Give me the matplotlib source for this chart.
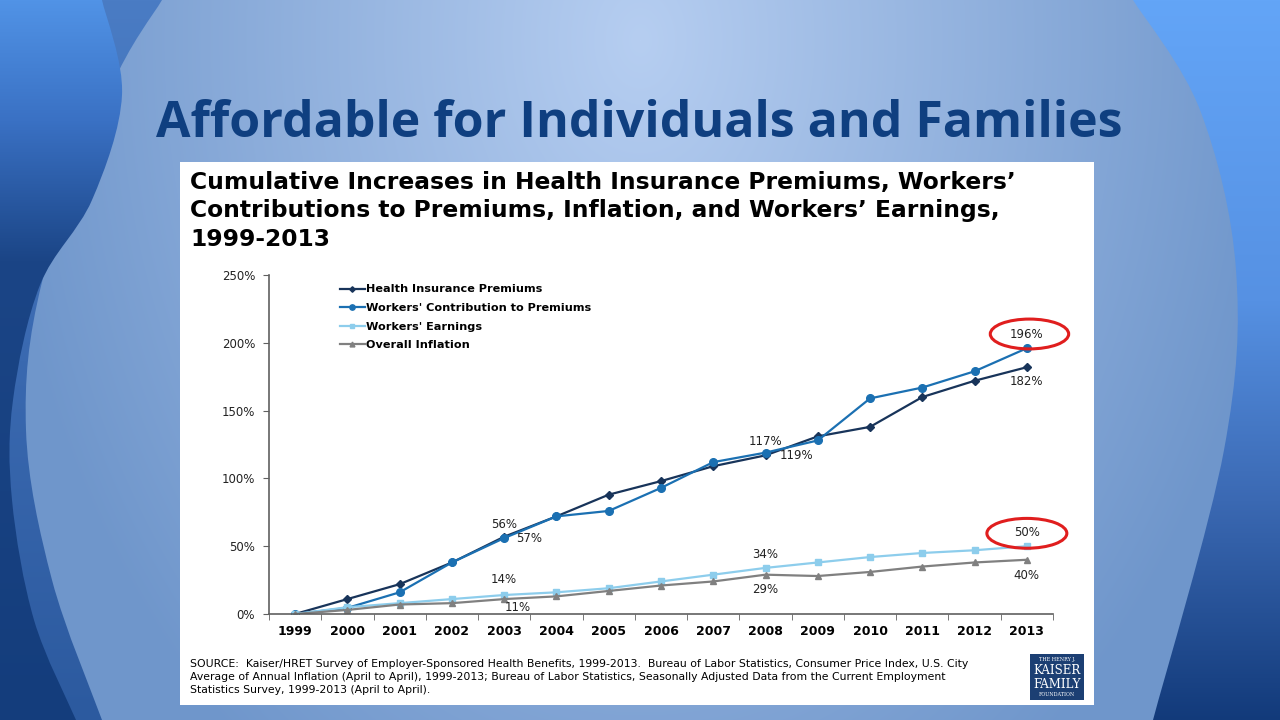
import numpy as np
import matplotlib
matplotlib.use("Agg")
import matplotlib.pyplot as plt
from matplotlib.patches import Rectangle, Ellipse, PathPatch
from matplotlib.path import Path
from matplotlib.ticker import FixedLocator, FuncFormatter

# ---------------- data ----------------
years = list(range(1999, 2014))
premiums = [0, 11, 22, 38, 57, 72, 88, 98, 109, 117, 131, 138, 160, 172, 182]
contributions = [0, 4.5, 16, 38, 56, 72, 76, 93, 112, 119, 128, 159, 167, 179, 196]
earnings = [0, 5, 8, 11, 14, 16, 19, 24, 29, 34, 38, 42, 45, 47, 50]
inflation = [0, 3, 7, 8, 11, 13, 17, 21, 24, 29, 28, 31, 35, 38, 40]
series_names = ["Health Insurance Premiums", "Workers' Contribution to Premiums",
                "Workers' Earnings", "Overall Inflation"]
y_ticks = [0, 50, 100, 150, 200, 250]

slide_title = "Affordable for Individuals and Families"
chart_title_lines = ["Cumulative Increases in Health Insurance Premiums, Workers\u2019",
                     "Contributions to Premiums, Inflation, and Workers\u2019 Earnings,",
                     "1999-2013"]
source_text = ("SOURCE:  Kaiser/HRET Survey of Employer-Sponsored Health Benefits, 1999-2013.  Bureau of Labor Statistics, Consumer Price Index, U.S. City\n"
               "Average of Annual Inflation (April to April), 1999-2013; Bureau of Labor Statistics, Seasonally Adjusted Data from the Current Employment\n"
               "Statistics Survey, 1999-2013 (April to April).")

# ---------------- figure ----------------
W, H = 1280, 720
fig = plt.figure(figsize=(12.8, 7.2), dpi=100)
bg = fig.add_axes([0, 0, 1, 1])
bg.set_xlim(0, W)
bg.set_ylim(H, 0)
bg.axis("off")

yy, xx = np.mgrid[0:H, 0:W]

def hexrgb(h):
    h = h.lstrip("#")
    return np.array([int(h[i:i + 2], 16) / 255.0 for i in (0, 2, 4)])

# main background: light in upper centre, greyer blue towards the edges
d = np.clip(np.sqrt(((xx - 640) / 650.0) ** 2 + ((yy - 40) / 900.0) ** 2), 0, 1)
c0, c1 = hexrgb("#b6cef1"), hexrgb("#6f96cb")
img = c0 * (1 - d[..., None]) + c1 * d[..., None]
bg.imshow(img, extent=[0, W, H, 0], zorder=0, aspect="auto")

def vgrad(stops):
    ys = [s[0] for s in stops]
    cols = np.array([hexrgb(s[1]) for s in stops])
    yv = np.arange(H)
    rgb = np.stack([np.interp(yv, ys, cols[:, k]) for k in range(3)], axis=1)
    return np.repeat(rgb[:, None, :], W, axis=1)

def smooth_region(points, closing):
    pts = [np.array(p, float) for p in points]
    verts = [pts[0]]
    codes = [Path.MOVETO]
    n = len(pts)
    for i in range(n - 1):
        p0 = pts[i - 1] if i > 0 else pts[i]
        p1, p2 = pts[i], pts[i + 1]
        p3 = pts[i + 2] if i + 2 < n else p2
        verts += [p1 + (p2 - p0) / 6.0, p2 - (p3 - p1) / 6.0, p2]
        codes += [Path.CURVE4] * 3
    for c in closing:
        verts.append(np.array(c, float))
        codes.append(Path.LINETO)
    verts.append(pts[0])
    codes.append(Path.CLOSEPOLY)
    return Path(verts, codes)

def grad_region(path, stops, z):
    patch = PathPatch(path, facecolor="none", edgecolor="none", zorder=z)
    bg.add_patch(patch)
    im = bg.imshow(vgrad(stops), extent=[0, W, H, 0], zorder=z, aspect="auto")
    im.set_clip_path(patch)

# left: region left of curve L (medium band)
L_pts = [(162, 0), (110, 90), (42, 282), (26, 430), (52, 580), (102, 720)]
grad_region(smooth_region(L_pts, [(0, 720), (0, 0)]),
            [(0, "#4a7cc4"), (360, "#3a69b0"), (720, "#2c5a9f")], 1)
# left: region left of curve S (bright top fading to dark navy)
S_pts = [(102, 0), (122, 95), (92, 200), (40, 285), (13, 400), (12, 500), (34, 620), (76, 720)]
grad_region(smooth_region(S_pts, [(0, 720), (0, 0)]),
            [(0, "#5193e6"), (120, "#3a71c4"), (260, "#1b4586"), (720, "#143d7c")], 2)
# right wedge
R_pts = [(1133, 0), (1200, 110), (1236, 270), (1224, 450), (1153, 720)]
grad_region(smooth_region(R_pts, [(1280, 720), (1280, 0)]),
            [(0, "#63a5f7"), (300, "#5691e3"), (500, "#3b69b3"), (720, "#123a7a")], 1)

# slide title
bg.text(639, 137, slide_title, ha="center", va="baseline", fontsize=36,
        fontweight="bold", color="#0f3f80", family="Open Sans", zorder=5)

# white panel
bg.add_patch(Rectangle((180, 162), 914, 543, facecolor="white", edgecolor="none", zorder=3))

# chart title
for yb, line in zip([189, 217, 246], chart_title_lines):
    bg.text(190, yb, line, ha="left", va="baseline", fontsize=16.8, fontweight="bold",
            color="black", family="DejaVu Sans", zorder=5)

# source text
bg.text(190, 659, source_text, ha="left", va="top", fontsize=7.8, color="black",
        family=["Liberation Sans Narrow", "DejaVu Sans"], linespacing=1.4, zorder=5)

# logo
bg.add_patch(Rectangle((1030, 654), 54, 46, facecolor="#1c3f73", edgecolor="none", zorder=5))
bg.text(1057, 660, "THE HENRY J.", ha="center", va="center", fontsize=3.5, color="white",
        family="DejaVu Serif", zorder=6)
bg.text(1057, 671, "KAISER", ha="center", va="center", fontsize=8.5, color="white",
        family="DejaVu Serif", zorder=6)
bg.text(1057, 684, "FAMILY", ha="center", va="center", fontsize=8.5, color="white",
        family="DejaVu Serif", zorder=6)
bg.text(1057, 695, "FOUNDATION", ha="center", va="center", fontsize=3.5, color="white",
        family="DejaVu Serif", zorder=6)

# ---------------- chart axes ----------------
ax = fig.add_axes([269 / W, (H - 614) / H, (1053 - 269) / W, (614 - 275) / H])
ax.set_facecolor("none")
ax.set_zorder(3)

c_prem = "#18345a"
c_cont = "#1b70b2"
c_earn = "#8dcdec"
c_infl = "#808080"

ax.plot(years, premiums, color=c_prem, marker="D", markersize=4, lw=1.6, label=series_names[0])
ax.plot(years, contributions, color=c_cont, marker="o", markersize=5.5, lw=1.6, label=series_names[1])
ax.plot(years, earnings, color=c_earn, marker="s", markersize=5, lw=1.6, label=series_names[2])
ax.plot(years, inflation, color=c_infl, marker="^", markersize=5, lw=1.6, label=series_names[3])

ax.set_xlim(1998.5, 2013.5)
ax.set_ylim(0, 250)
ax.set_yticks(y_ticks)
ax.yaxis.set_major_formatter(FuncFormatter(lambda v, p: f"{int(v)}%"))
ax.set_xticks(years)
ax.set_xticklabels([str(y) for y in years], fontweight="bold", fontsize=9)
ax.xaxis.set_minor_locator(FixedLocator([y + 0.5 for y in years[:-1]] + [1998.5, 2013.5]))
ax.tick_params(axis="x", which="major", length=0, pad=8)
ax.tick_params(axis="x", which="minor", length=4, direction="out", color="#606060")
ax.tick_params(axis="y", length=4, direction="out", color="#606060", labelsize=8.5,
               labelcolor="#222222", pad=6)
for s in ["top", "right"]:
    ax.spines[s].set_visible(False)
for s in ["left", "bottom"]:
    ax.spines[s].set_color("#606060")
    ax.spines[s].set_linewidth(1.2)

leg = ax.legend(loc="upper left", bbox_to_anchor=(0.0906, 0.972), frameon=False,
                borderaxespad=0, borderpad=0,
                prop={"weight": "bold", "size": 8.1}, handlelength=2.2,
                handletextpad=0.1, labelspacing=0.76, markerscale=0.7)

# value labels
def lab(txt, x, y, dx, dy):
    ax.annotate(txt, (x, y), xytext=(dx, dy), textcoords="offset points",
                ha="center", va="center", fontsize=8.5, color="#222222")

lab("196%", 2013, contributions[-1], 0, 10)
lab("182%", 2013, premiums[-1], 0, -10)
lab("117%", 2008, premiums[9], 0, 10)
lab("119%", 2008, contributions[9], 22, -2)
lab("56%", 2003, contributions[4], 0, 10)
lab("57%", 2003, premiums[4], 18, -1)
lab("14%", 2003, earnings[4], 0, 11)
lab("11%", 2003, inflation[4], 10, -6)
lab("34%", 2008, earnings[9], 0, 10)
lab("29%", 2008, inflation[9], 0, -11)
lab("50%", 2013, earnings[-1], 0, 10)
lab("40%", 2013, inflation[-1], 0, -11)

# red highlight ellipses
ax.add_patch(Ellipse((2013.05, 206.5), 1.5, 22, facecolor="none", edgecolor="#e01e1e",
                     lw=2.2, clip_on=False, zorder=6))
ax.add_patch(Ellipse((2013, 59.5), 1.53, 22, facecolor="none", edgecolor="#e01e1e",
                     lw=2.2, clip_on=False, zorder=6))

fig.savefig("out.png", dpi=100)
